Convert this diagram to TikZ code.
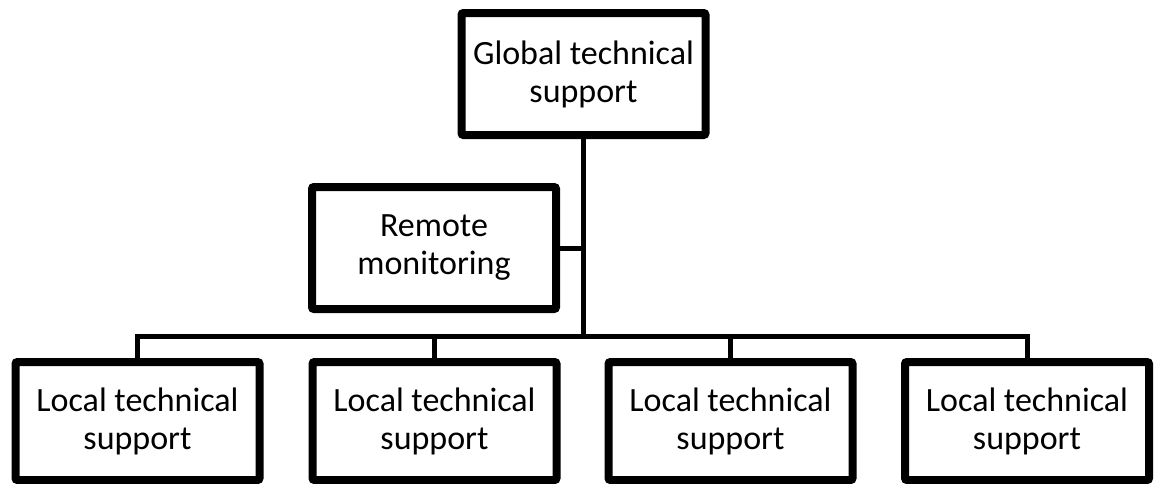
\documentclass[tikz,border=0pt]{standalone}
\usepackage{fontspec}
\setmainfont{Carlito}
\usetikzlibrary{shadows}
\begin{document}
\begin{tikzpicture}[x=1pt,y=-1pt,
  unit/.style={draw=black, line width=8pt, fill=white, rounded corners=2pt,
    minimum width=244pt, minimum height=122pt, inner sep=0pt, align=center,
    font=\fontsize{34}{38}\selectfont,
    drop shadow={shadow xshift=1.5pt, shadow yshift=-2.5pt, opacity=0.25}},
  leaf/.style={unit, minimum height=118pt},
  conn/.style={draw=black, line width=5pt}]
\useasboundingbox (0,0) rectangle (1154,483);
\fill[white] (0,0) rectangle (1154,483);

% boxes
\node[unit] (g) at (583.5,74) {Global technical\\support};
\node[unit] (r) at (434,248) {Remote\\monitoring};
\node[leaf] (l1) at (137.5,421) {Local technical\\support};
\node[leaf] (l2) at (434.5,421) {Local technical\\support};
\node[leaf] (l3) at (730.5,421) {Local technical\\support};
\node[leaf] (l4) at (1027,421) {Local technical\\support};

% height of the horizontal bus
\coordinate (bus) at (583.5,336);

% connectors
\draw[conn] (g.south) -- (g.south |- bus);
\draw[conn] (r.east) -- (r.east -| g.south);
\draw[conn] (l1.north) -- (l1.north |- bus) -- (l4.north |- bus) -- (l4.north);
\draw[conn] (l2.north) -- (l2.north |- bus);
\draw[conn] (l3.north) -- (l3.north |- bus);
\end{tikzpicture}
\end{document}
